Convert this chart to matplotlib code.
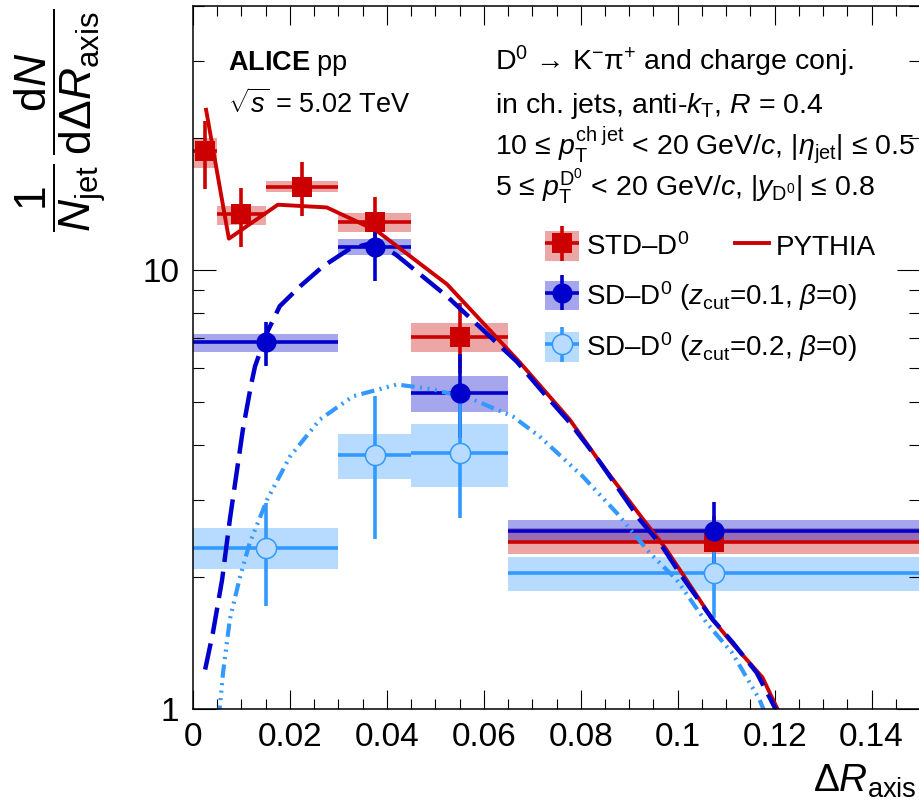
import numpy as np
import matplotlib
matplotlib.use('Agg')
import matplotlib.pyplot as plt
from matplotlib.ticker import MultipleLocator, LogLocator, NullFormatter, FuncFormatter
from matplotlib.container import ErrorbarContainer
from matplotlib.legend_handler import HandlerErrorbar

plt.rcParams['font.family'] = ['Liberation Sans', 'DejaVu Sans']
plt.rcParams['mathtext.fontset'] = 'custom'
plt.rcParams['mathtext.rm'] = 'Liberation Sans'
plt.rcParams['mathtext.it'] = 'Liberation Sans:italic'
plt.rcParams['mathtext.bf'] = 'Liberation Sans:bold'
plt.rcParams['mathtext.sf'] = 'Liberation Sans'

# --- data: STD-D0
std_edges = [0, 0.005, 0.015, 0.03, 0.045, 0.065, 0.15]
std_y = [18.7, 13.4, 15.5, 12.9, 7.03, 2.40]
std_err_lo = [3.4, 2.1, 2.2, 1.6, 1.2, 0.35]
std_err_hi = [3.2, 2.0, 2.1, 1.8, 1.4, 0.35]
std_sys_lo = [17.1, 12.7, 15.1, 12.2, 6.50, 2.25]
std_sys_hi = [20.0, 14.0, 16.0, 13.5, 7.57, 2.58]

# SD-D0, zcut = 0.1 and 0.2
sd_edges = [0, 0.03, 0.045, 0.065, 0.15]
sd1_y = [6.85, 11.3, 5.24, 2.54]
sd1_err_lo = [0.81, 1.85, 1.1, 0.4]
sd1_err_hi = [0.76, 1.8, 1.19, 0.43]
sd1_sys_lo = [6.50, 10.82, 4.74, 2.39]
sd1_sys_hi = [7.14, 11.77, 5.73, 2.69]

sd2_y = [2.33, 3.80, 3.84, 2.04]
sd2_err_lo = [0.61, 1.36, 1.12, 0.43]
sd2_err_hi = [0.62, 1.36, 1.3, 0.45]
sd2_sys_lo = [2.09, 3.35, 3.21, 1.86]
sd2_sys_hi = [2.59, 4.23, 4.47, 2.22]

# PYTHIA curves
py_std_x = [0.0027, 0.0074, 0.0175, 0.0276, 0.0379, 0.0524, 0.0674, 0.0777,
            0.0839, 0.0926, 0.0973, 0.1004, 0.1072, 0.1113, 0.1175, 0.1204, 0.1215]
py_std_y = [23.2, 11.8, 14.1, 13.9, 12.3, 9.29, 6.17, 4.57,
            3.66, 2.73, 2.34, 2.08, 1.60, 1.41, 1.18, 1.01, 0.96]
py_sd1_x = [0.0025, 0.0041, 0.0060, 0.0076, 0.0103, 0.0120, 0.0128, 0.0153, 0.0179,
            0.0221, 0.0268, 0.0324, 0.0379, 0.0421, 0.0524, 0.0668, 0.0722, 0.0777,
            0.0839, 0.0922, 0.0969, 0.1004, 0.1072, 0.1113, 0.1163, 0.1196, 0.1210]
py_sd1_y = [1.23, 1.49, 1.97, 2.70, 4.34, 5.49, 6.04, 7.22, 8.28,
            9.19, 10.2, 11.2, 11.6, 10.8, 8.72, 6.19, 5.27, 4.50,
            3.66, 2.70, 2.34, 2.04, 1.60, 1.42, 1.21, 1.03, 0.96]
py_sd2_x = [0.0053, 0.0062, 0.0076, 0.0097, 0.0117, 0.0153, 0.0200, 0.0262, 0.0330,
            0.0421, 0.0495, 0.0577, 0.0660, 0.0715, 0.0804, 0.0874, 0.0942, 0.0998,
            0.1060, 0.1113, 0.1169, 0.1180]
py_sd2_y = [0.95, 1.21, 1.60, 2.00, 2.39, 3.00, 3.76, 4.57, 5.16,
            5.49, 5.35, 5.08, 4.64, 4.18, 3.39, 2.80, 2.27, 1.97,
            1.57, 1.34, 1.05, 0.98]

RED = '#CC0000'
BLUE = '#0000CC'
AZURE = '#3399FF'
AZURE_FILL = '#B8DBFF'

fig = plt.figure(figsize=(9.19, 8.10), dpi=100)
ax = fig.add_axes([193 / 919, 101 / 810, 727 / 919, 703 / 810])


def draw(edges, y, elo, ehi, slo, shi, color, marker, ms, mfc, mew):
    edges = np.array(edges)
    xc = (edges[:-1] + edges[1:]) / 2
    w = np.diff(edges)
    slo = np.array(slo)
    shi = np.array(shi)
    bars = ax.bar(edges[:-1], shi - slo, width=w, bottom=slo, align='edge',
                  color=color, alpha=0.35, linewidth=0)
    eb = ax.errorbar(xc, y, xerr=w / 2, yerr=[elo, ehi], fmt=marker, color=color,
                     ms=ms, mfc=mfc, mec=color, mew=mew, elinewidth=2.6, capsize=0)
    return bars, eb


h_std = draw(std_edges, std_y, std_err_lo, std_err_hi, std_sys_lo, std_sys_hi,
             RED, 's', 15, RED, 0)
h_sd1 = draw(sd_edges, sd1_y, sd1_err_lo, sd1_err_hi, sd1_sys_lo, sd1_sys_hi,
             BLUE, 'o', 14.5, BLUE, 0)
h_sd2 = draw(sd_edges, sd2_y, sd2_err_lo, sd2_err_hi, sd2_sys_lo, sd2_sys_hi,
             AZURE, 'o', 14.5, AZURE_FILL, 1.1)

l_py, = ax.plot(py_std_x, py_std_y, color=RED, lw=2.8)
ax.plot(py_sd1_x, py_sd1_y, color=BLUE, lw=3.2, dashes=(6, 2.2))
ax.plot(py_sd2_x, py_sd2_y, color=AZURE, lw=3.0,
        dashes=(3.2, 1.3, 0.5, 1.3, 0.5, 1.3, 0.5, 1.3))

ax.set_xlim(0, 0.15)
ax.set_yscale('log')
ax.set_ylim(1, 40)

ax.xaxis.set_major_locator(MultipleLocator(0.02))
ax.xaxis.set_minor_locator(MultipleLocator(0.005))
ax.xaxis.set_major_formatter(FuncFormatter(lambda v, p: f'{v:g}'))
ax.set_yticks([1, 10])
ax.set_yticklabels(['1', '10'])
ax.yaxis.set_minor_locator(LogLocator(base=10, subs=np.arange(2, 10)))
ax.yaxis.set_minor_formatter(NullFormatter())

ax.tick_params(which='both', direction='in', top=True, right=True, width=0.8, labelsize=24)
ax.tick_params(axis='x', which='major', length=13.7, pad=9)
ax.tick_params(axis='x', which='minor', length=7.2)
ax.tick_params(axis='y', which='major', length=16.5, pad=10)
ax.tick_params(axis='y', which='minor', length=8)
for s in ax.spines.values():
    s.set_linewidth(1.1)

# axis titles
ax.set_xlabel(r'$\Delta R_{\rm axis}$', fontsize=28, ha='right', va='baseline')
ax.xaxis.set_label_coords((917 - 193) / 727, (709 - 792) / 703)
fig.text(60 / 919, 1 - 120 / 810,
         r'$\dfrac{1}{N_{\rm jet}}\,\dfrac{{\rm d}N}{{\rm d}\Delta R_{\rm axis}}$',
         rotation=90, ha='center', va='center', fontsize=32)

# text
fs = 20.5
fig.text(228 / 919, 1 - 70 / 810, r'$\bf{ALICE}$ pp', fontsize=19.5, va='baseline')
fig.text(228 / 919, 1 - 113 / 810, r'$\sqrt{s}$ = 5.02 TeV', fontsize=19.5, va='baseline')
fig.text(495 / 919, 1 - 70 / 810,
         r'D$^0$ → K$^{-}\mathrm{\pi}^{+}$ and charge conj.',
         fontsize=fs, va='baseline')
fig.text(495 / 919, 1 - 113 / 810, r'in ch. jets, anti-$k_{\rm T}$, $R$ = 0.4',
         fontsize=fs, va='baseline')
fig.text(495 / 919, 1 - 155 / 810,
         r'10 ≤ $p_{\rm T}^{\rm ch\ jet}$ < 20 GeV/$c$, |$\eta_{\rm jet}$| ≤ 0.5',
         fontsize=fs, va='baseline')
fig.text(495 / 919, 1 - 197 / 810,
         r'5 ≤ $p_{\rm T}^{{\rm D}^0}$ < 20 GeV/$c$, |$y_{{\rm D}^0}$| ≤ 0.8',
         fontsize=fs, va='baseline')

# legends
hmap = {ErrorbarContainer: HandlerErrorbar(xerr_size=0.61, yerr_size=0.63)}
leg_kw = dict(loc='upper left', bbox_transform=fig.transFigure, frameon=False,
              fontsize=20, handlelength=1.22, handleheight=1.26, handletextpad=0.25,
              labelspacing=0.64, borderpad=0, borderaxespad=0, numpoints=1)
leg1 = ax.legend([h_std, h_sd1, h_sd2],
                 [r'STD–D$^0$',
                  r'SD–D$^0$ ($z_{\rm cut}$=0.1, $\beta$=0)',
                  r'SD–D$^0$ ($z_{\rm cut}$=0.2, $\beta$=0)'],
                 bbox_to_anchor=(545 / 919, 1 - 231 / 810), handler_map=hmap, **leg_kw)
ax.add_artist(leg1)
ax.legend([l_py], ['PYTHIA'], bbox_to_anchor=(735 / 919, 1 - 231 / 810), **leg_kw)

fig.savefig('out.png', dpi=100)
